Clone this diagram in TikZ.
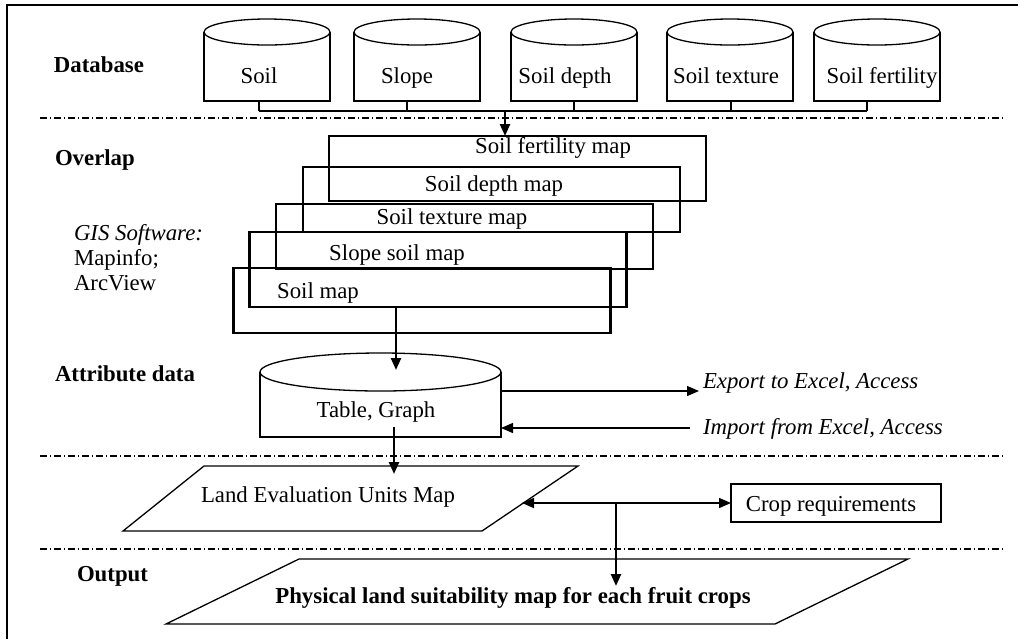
\documentclass[tikz,border=0pt]{standalone}
\usepackage{fontspec}
\setmainfont{Liberation Serif}
\usetikzlibrary{arrows.meta}
\newcommand{\diagfont}{\fontsize{11.4}{12.5}\selectfont}

\begin{document}
\begin{tikzpicture}[x=0.5pt, y=-0.5pt, font=\diagfont,
	every node/.style={inner sep=0pt, outer sep=0pt, font=\diagfont},
	lbl/.style={anchor=base},
	thinline/.style={line width=0.65pt},
	layer/.style={draw, line width=1.25pt, minimum width=188.5pt, minimum height=32.5pt},
	divider/.style={line width=0.6pt, dash pattern=on 3.5pt off 1.4pt on 0.7pt off 1.4pt},
	flow/.style={line width=1.2pt, -{Triangle[length=6pt, width=5pt]}},
	flowthin/.style={line width=0.65pt, -{Triangle[length=6pt, width=5pt]}},
	heading/.style={font=\diagfont\bfseries, anchor=base west}]
	\useasboundingbox (0,0) rectangle (1024,639);
	% frame
	\draw[line width=1pt] (7,639) -- (7,5) -- (1018,5);
	% row titles
	\node[heading] (hdb)  at (54,72)  {Database};
	\node[heading] (hovl) at (55,165) {Overlap};
	\node[heading] (hatt) at (55,381) {Attribute data};
	\node[heading] (hout) at (77,581) {Output};
	\node[anchor=west, align=left] (gis) at (74,258) {\textit{GIS Software:}\\Mapinfo;\\ArcView};
	% dividers
	\foreach \y in {118,456,549}
		\draw[divider] (40,\y) -- (1003,\y);
	% database
	\foreach \cx/\tx/\sx/\nm/\txt in {267/259/259/dbsoil/Soil, 417/407/407/dbslope/Slope,
		574/565/574/dbdepth/Soil depth, 730/726/731/dbtex/Soil texture, 877/882/867/dbfert/Soil fertility}{
		\draw[thinline] (\cx-63,32) -- (\cx-63,101) -- (\cx+63,101) -- (\cx+63,32);
		\draw[thinline] (\cx,32) ellipse [x radius=31.5pt, y radius=6.5pt];
		\node[lbl] (\nm) at (\tx,83) {\txt};
		\coordinate (\nm-b) at (\sx,101);
	}
	\coordinate (busL) at (259,111);
	\coordinate (busR) at (867,111);
	\coordinate (busA) at (505,111);
	\draw[thinline] (busL) -- (busR);
	\foreach \nm in {dbsoil,dbslope,dbdepth,dbtex,dbfert}
		\draw[thinline] (\nm-b) -- (\nm-b |- busL);
	% overlap
	\node[layer] (mapfert)  at (517.5,168.5) {};
	\node[layer] (mapdepth) at (491.5,199.5) {};
	\node[layer] (maptex)   at (464.5,236.5) {};
	\node[layer, minimum height=37.5pt] (mapslope) at (438,269.5) {};
	\node[layer] (mapsoil)  at (422,300.5) {};
	\node[lbl] (tfert)  at (553,153) {Soil fertility map};
	\node[lbl] (tdepth) at (494,191) {Soil depth map};
	\node[lbl] (ttex)   at (452,224) {Soil texture map};
	\node[lbl] (tslope) at (397,260) {Slope soil map};
	\node[lbl] (tsoil)  at (318,298) {Soil map};
	\draw[flow] (busA) -- (busA |- mapfert.north);
	% attribute data
	\draw[thinline] (260,372) -- (260,437) -- (501,437) -- (501,372);
	\draw[thinline] (380.5,372) ellipse [x radius=60.25pt, y radius=9.5pt];
	\node[lbl] (tbl) at (376,417) {Table, Graph};
	\coordinate (ovl) at (396,307);
	\coordinate (tbltop) at (396,370);
	\draw[flow] (ovl) -- (tbltop);
	\node[anchor=base west, font=\diagfont\itshape] (export) at (703,388) {Export to Excel, Access};
	\node[anchor=base west, font=\diagfont\itshape] (import) at (703,434) {Import from Excel, Access};
	\coordinate (tblE) at (501,391);
	\coordinate (tblS) at (501,428);
	\draw[flowthin, shorten >=2pt] (tblE) -- (tblE -| export.west);
	\draw[flowthin] ([xshift=-6.5pt]import.west |- tblS) -- (tblS);
	% land evaluation
	\coordinate (tblout) at (394,427);
	\coordinate (leuin) at (394,474);
	\draw[flow] (tblout) -- (leuin);
	\draw[thinline] (123,531) -- (482,531) -- (578,466) -- (204,466) -- cycle;
	\node[lbl] (leu) at (328,502) {Land Evaluation Units Map};
	\coordinate (leuR) at (522,503);
	\node[draw, thinline, minimum width=105pt, minimum height=19pt] (crop) at (836,503) {};
	\node[lbl] (tcrop) at (831,511) {Crop requirements};
	\draw[line width=0.8pt, {Triangle[length=6pt, width=5pt]}-{Triangle[length=6pt, width=5pt]}] (leuR) -- (crop.west);
	\coordinate (jn) at (616,503);
	\coordinate (outtop) at (616,586);
	\draw[flow] (jn) -- (outtop);
	% output
	\draw[thinline] (166,624) -- (775,624) -- (908,559) -- (299,559) -- cycle;
	\node[lbl, font=\diagfont\bfseries] (out) at (513,603) {Physical land suitability map for each fruit crops};
\end{tikzpicture}
\end{document}
